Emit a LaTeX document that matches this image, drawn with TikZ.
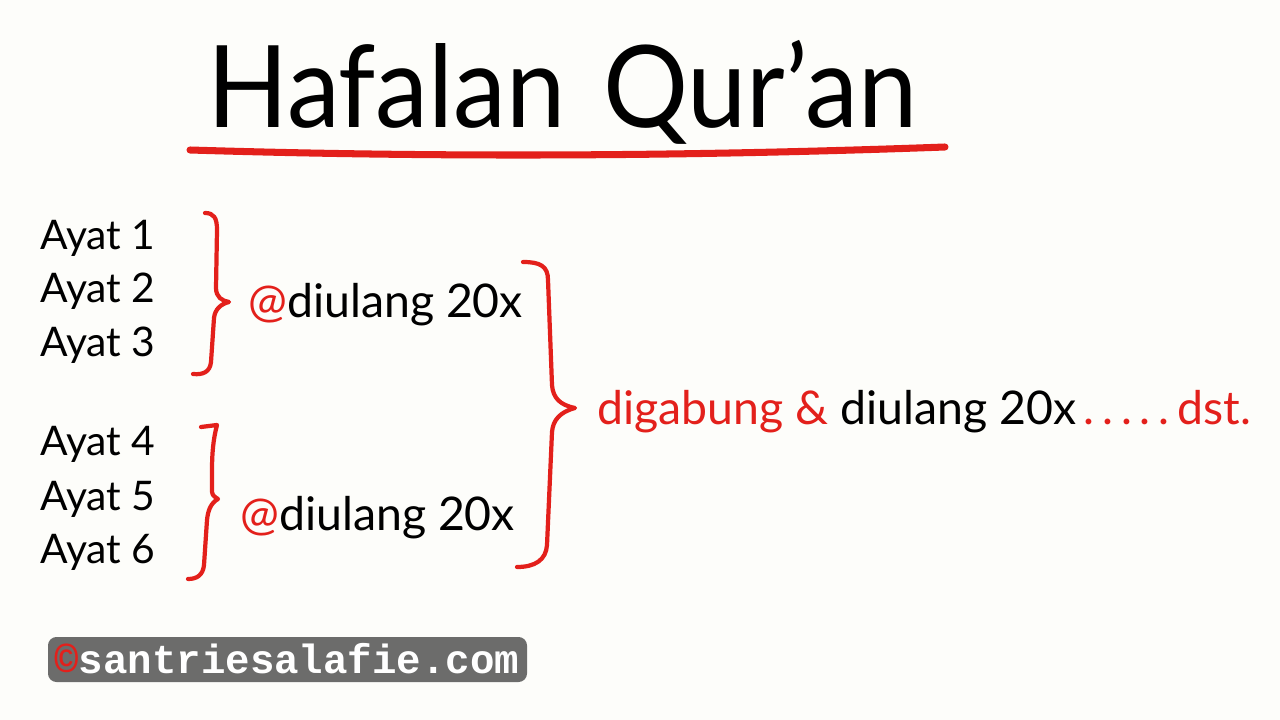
\documentclass[tikz,border=0pt]{standalone}
\usepackage{fontspec}
\setmainfont{Lato}
\setmonofont{Liberation Mono}
\usepackage{graphicx}
\usepackage{tikz}
\definecolor{pen}{HTML}{E3201B}
\definecolor{paper}{HTML}{FDFDFA}
\definecolor{stamp}{HTML}{6C6C6B}

\begin{document}
\begin{tikzpicture}[x=0.025cm,y=-0.025cm,
  ayat/.style={anchor=base west,inner sep=0pt,font=\fontsize{29}{31}\selectfont},
  ulang/.style={anchor=base west,inner sep=0pt,font=\fontsize{33}{36}\selectfont},
  kurung/.style={draw=pen,line width=3pt,line cap=round,line join=round}]
        \fill[paper] (0,0) rectangle (1280,720); % background
        \useasboundingbox (0,0) rectangle (1280,720);
        \node[anchor=base west,inner sep=0pt] (judul) at (207,128)
          {\resizebox{505pt}{62pt}{\fontsize{90}{90}\selectfont Hafalan\hspace{0.35em}Qur'an}};
        \draw[pen,line width=5pt,line cap=round] (190,150) .. controls (450,158) and (700,156) .. (945,147); % underline
        \node[ayat] (a1) at (40,250) {Ayat 1};
        \node[ayat] (a2) at (40,303) {Ayat 2};
        \node[ayat] (a3) at (40,357) {Ayat 3};
        \node[ayat] (a4) at (40,455) {Ayat 4};
        \node[ayat] (a5) at (40,510) {Ayat 5};
        \node[ayat] (a6) at (40,563) {Ayat 6};
        \draw[kurung] (205,213) .. controls (214,213) and (217,218) .. (217,230) -- (216,288)
          .. controls (216,297) and (222,301) .. (229,302) .. controls (221,304) and (215,309) .. (214,318)
          -- (211,362) .. controls (210,372) and (203,375) .. (193,374); % brace 1-3
        \node[ulang] (u1) at (248,318) {\textcolor{pen}{@}diulang 20x};
        \draw[kurung] (201,427) -- (217,425) .. controls (213,440) and (212,455) .. (212,470)
          -- (212,488) .. controls (212,495) .. (218,499) .. controls (211,503) and (208,510) .. (207,520)
          -- (204,565) .. controls (203,575) and (197,579) .. (188,579); % brace 4-6
        \node[ulang] (u2) at (240,530) {\textcolor{pen}{@}diulang 20x};
        \draw[kurung] (523,262) .. controls (540,262) and (548,266) .. (548,280) -- (552,385)
          .. controls (553,398) and (560,405) .. (575,408) .. controls (560,412) and (553,420) .. (552,432)
          -- (547,545) .. controls (546,560) and (535,567) .. (517,567); % big brace
        \node[ulang,anchor=base west] (gabung) at (597,425)
          {\textcolor{pen}{digabung \&} diulang 20x\textcolor{pen}{\,.\,.\,.\,.\,.\,dst.}};
        \fill[stamp,rounded corners=6pt] (48,637) rectangle (527,682); % watermark
        \node[anchor=west,inner sep=0pt,font=\fontsize{29}{30}\selectfont\ttfamily\bfseries] (web) at (54,659)
          {\textcolor{pen}{©}\textcolor{white}{santriesalafie.com}};
\end{tikzpicture}
\end{document}
